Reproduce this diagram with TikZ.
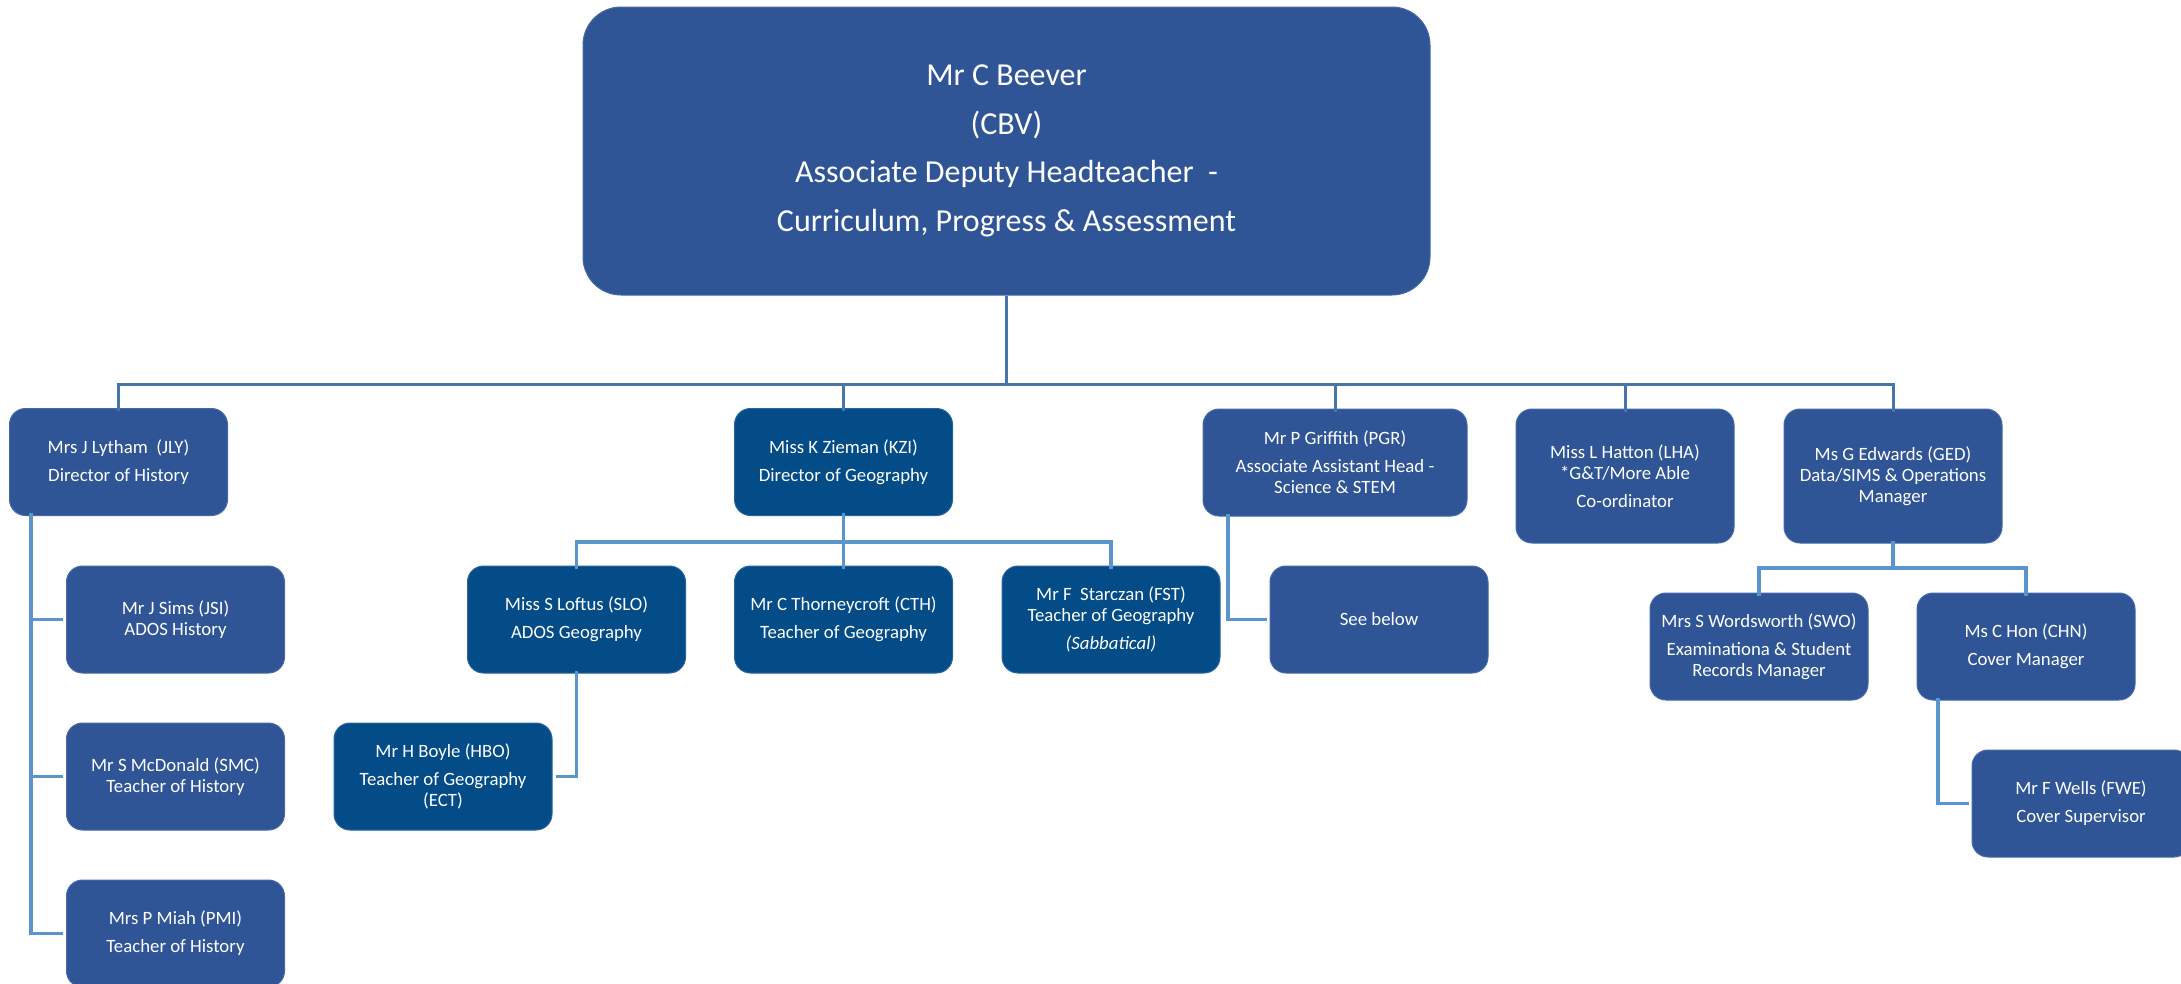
\documentclass[tikz,border=0pt]{standalone}
\usepackage{fontspec}
\setmainfont{Carlito}
\definecolor{boxblue}{RGB}{47,85,151}
\definecolor{boxedge}{RGB}{70,105,170}
\definecolor{geoblue}{RGB}{3,76,136}
\definecolor{geoedge}{RGB}{40,100,160}
\definecolor{busblue}{RGB}{70,118,168}
\definecolor{subblue}{RGB}{91,149,206}
\tikzset{
  box/.style={rectangle, rounded corners=16pt, fill=boxblue, draw=boxedge, line width=1pt,
    text=white, align=center, inner sep=0pt, minimum width=218pt, minimum height=107pt,
    font=\fontsize{18.8}{21}\selectfont},
  geo/.style={box, fill=geoblue, draw=geoedge},
  lone/.style={draw=busblue, line width=3pt},
  ltwo/.style={draw=subblue, line width=3.2pt},
}
\begin{document}
\begin{tikzpicture}[x=1pt,y=-1pt]
\useasboundingbox[fill=white] (0,0) rectangle (2181,983);
% top
\node[box, rounded corners=38pt, minimum width=847pt, minimum height=288pt,
  font=\fontsize{32}{48.5}\selectfont] (top) at (1006.5,151)
  {Mr C Beever\\(CBV)\\Associate Deputy Headteacher\ \ -\\Curriculum, Progress \& Assessment};
% level 1
\node[box] (jly) at (118.5,462) {Mrs J Lytham\ \ (JLY)\\[7pt]Director of History};
\node[geo] (kzi) at (843.5,462) {Miss K Zieman (KZI)\\[7pt]Director of Geography};
\node[box, minimum width=264pt] (pgr) at (1335,462.5) {Mr P Griffith (PGR)\\[7pt]Associate Assistant Head -\\Science \& STEM};
\node[box, minimum height=134pt] (lha) at (1625,476) {Miss L Hatton (LHA)\\*G\&T/More Able\\[7pt]Co-ordinator};
\node[box, minimum height=134pt] (ged) at (1893,476) {Ms G Edwards (GED)\\Data/SIMS \& Operations\\Manager};
% history
\node[box] (jsi) at (175.5,619.5) {Mr J Sims (JSI)\\ADOS History};
\node[box] (smc) at (175.5,776.5) {Mr S McDonald (SMC)\\Teacher of History};
\node[box] (pmi) at (175.5,933.5) {Mrs P Miah (PMI)\\[7pt]Teacher of History};
% geography
\node[geo] (slo) at (576.5,619.5) {Miss S Loftus (SLO)\\[7pt]ADOS Geography};
\node[geo] (cth) at (843.5,619.5) {Mr C Thorneycroft (CTH)\\[7pt]Teacher of Geography};
\node[geo] (fst) at (1111,619.5) {Mr F\ \ Starczan (FST)\\Teacher of Geography\\[7pt]\textit{(Sabbatical)}};
\node[geo] (hbo) at (443,776.5) {Mr H Boyle (HBO)\\[7pt]Teacher of Geography\\(ECT)};
% science
\node[box] (see) at (1379,619.5) {See below};
% data
\node[box] (swo) at (1759,646.5) {Mrs S Wordsworth (SWO)\\[7pt]Examinationa \& Student\\Records Manager};
\node[box] (chn) at (2026,646.5) {Ms C Hon (CHN)\\[7pt]Cover Manager};
\node[box] (fwe) at (2081,803.5) {Mr F Wells (FWE)\\[7pt]Cover Supervisor};
% connectors
\coordinate (b1) at (0,384);
\coordinate (b2) at (0,542);
\coordinate (b3) at (0,568);
\draw[lone] (top.south) -- (top.south |- b1);
\draw[lone] ([yshift=-3pt]jly.north) -- (jly.north |- b1) -- (ged.north |- b1) -- ([yshift=-3pt]ged.north);
\draw[lone] (kzi.north |- b1) -- ([yshift=-3pt]kzi.north);
\draw[lone] (pgr.north |- b1) -- ([yshift=-3pt]pgr.north);
\draw[lone] (lha.north |- b1) -- ([yshift=-3pt]lha.north);
% history branches
\coordinate (hx) at (31,0);
\draw[ltwo] ([yshift=3pt]jly.south -| hx) -- (pmi.west -| hx) -- ([xshift=-3pt]pmi.west);
\draw[ltwo] (jsi.west -| hx) -- ([xshift=-3pt]jsi.west);
\draw[ltwo] (smc.west -| hx) -- ([xshift=-3pt]smc.west);
% geography branches
\draw[ltwo] ([yshift=3pt]kzi.south) -- (kzi.south |- b2);
\draw[ltwo] ([yshift=-3pt]slo.north) -- (slo.north |- b2) -- (fst.north |- b2) -- ([yshift=-3pt]fst.north);
\draw[ltwo] (cth.north |- b2) -- ([yshift=-3pt]cth.north);
\draw[ltwo] ([yshift=3pt]slo.south) -- (slo.south |- hbo.east) -- ([xshift=3pt]hbo.east);
% science
\coordinate (px) at (1228,0);
\draw[ltwo] ([yshift=3pt]pgr.south -| px) -- (see.west -| px) -- ([xshift=-3pt]see.west);
% data
\draw[ltwo] ([yshift=3pt]ged.south) -- (ged.south |- b3);
\draw[ltwo] ([yshift=-3pt]swo.north) -- (swo.north |- b3) -- (chn.north |- b3) -- ([yshift=-3pt]chn.north);
\coordinate (cx) at (1938,0);
\draw[ltwo] ([yshift=3pt]chn.south -| cx) -- (fwe.west -| cx) -- ([xshift=-3pt]fwe.west);
\end{tikzpicture}
\end{document}
